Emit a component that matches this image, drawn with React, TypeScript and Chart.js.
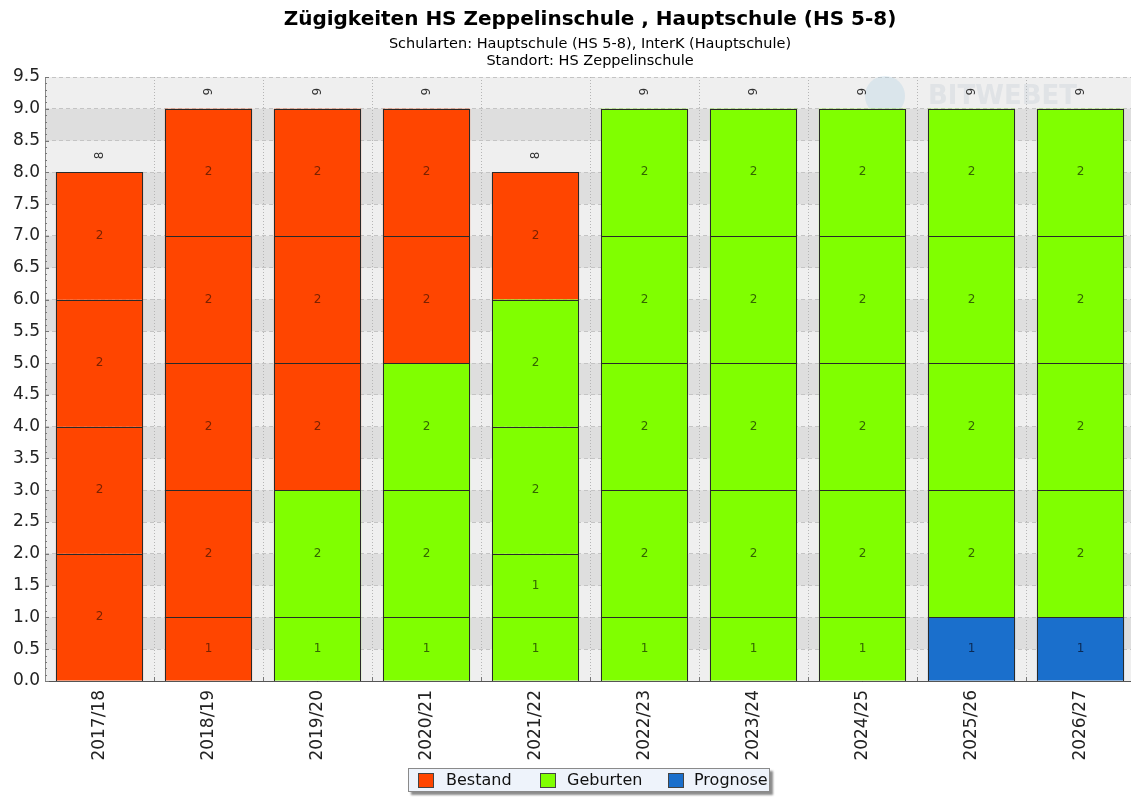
import React, { useEffect, useRef } from "react";
import { Chart, registerables } from "chart.js";

Chart.register(...registerables);

const categories = ["2017/18", "2018/19", "2019/20", "2020/21", "2021/22", "2022/23", "2023/24", "2024/25", "2025/26", "2026/27"];

// stacked layers, bottom to top
const layer1 = [0, 1, 1, 1, 1, 1, 1, 1, 1, 1];
const layer2 = [2, 2, 2, 2, 1, 2, 2, 2, 2, 2];
const layer3 = [2, 2, 2, 2, 2, 2, 2, 2, 2, 2];
const layer4 = [2, 2, 2, 2, 2, 2, 2, 2, 2, 2];
const layer5 = [2, 2, 2, 2, 2, 2, 2, 2, 2, 2];

// type per cell: B = Bestand, G = Geburten, P = Prognose
const type1 = ["B", "B", "G", "G", "G", "G", "G", "G", "P", "P"];
const type2 = ["B", "B", "G", "G", "G", "G", "G", "G", "G", "G"];
const type3 = ["B", "B", "B", "G", "G", "G", "G", "G", "G", "G"];
const type4 = ["B", "B", "B", "B", "G", "G", "G", "G", "G", "G"];
const type5 = ["B", "B", "B", "B", "B", "G", "G", "G", "G", "G"];

const totals = [8, 9, 9, 9, 8, 9, 9, 9, 9, 9];

const legendLabels = ["Bestand", "Geburten", "Prognose"];

const FILL: Record<string, string> = { B: "#ff4500", G: "#80ff00", P: "#1a6fcc" };
const TEXT: Record<string, string> = { B: "#7a2200", G: "#336600", P: "#0b2a55" };

const FONT = "'DejaVu Sans', Verdana, sans-serif";

const layers = [layer1, layer2, layer3, layer4, layer5];
const types = [type1, type2, type3, type4, type5];

const decorPlugin = {
  id: "decor",
  beforeDraw(chart: any) {
    const { ctx, chartArea } = chart;
    const y = chart.scales.y;
    ctx.save();
    ctx.fillStyle = "#efefef";
    ctx.fillRect(chartArea.left, chartArea.top, chartArea.right - chartArea.left, chartArea.bottom - chartArea.top);
    ctx.fillStyle = "#dedede";
    for (let v = 0.5; v < 9.5; v += 1) {
      const yt = y.getPixelForValue(v + 0.5);
      const yb = y.getPixelForValue(v);
      ctx.fillRect(chartArea.left, yt, chartArea.right - chartArea.left, yb - yt);
    }
    // title
    const cx = (chartArea.left + chartArea.right) / 2;
    ctx.fillStyle = "#000";
    ctx.textAlign = "center";
    ctx.textBaseline = "middle";
    ctx.font = `bold 20px ${FONT}`;
    ctx.fillText("Zügigkeiten HS Zeppelinschule , Hauptschule (HS 5-8)", cx, 20);
    ctx.font = `14.5px ${FONT}`;
    ctx.fillText("Schularten: Hauptschule (HS 5-8), InterK (Hauptschule)", cx, 44);
    ctx.fillText("Standort: HS Zeppelinschule", cx, 61);
    ctx.restore();
  },
  beforeDatasetsDraw(chart: any) {
    const { ctx } = chart;
    ctx.save();
    // faint watermark
    ctx.fillStyle = "rgba(170,205,225,0.3)";
    ctx.beginPath();
    ctx.arc(885, 96, 20, 0, Math.PI * 2);
    ctx.fill();
    ctx.fillStyle = "rgba(190,200,210,0.3)";
    ctx.font = `bold 26px ${FONT}`;
    ctx.textAlign = "left";
    ctx.textBaseline = "middle";
    ctx.fillText("BITWEBET", 928, 97);
    ctx.restore();
  },
  afterDatasetsDraw(chart: any) {
    const { ctx, chartArea } = chart;
    const y = chart.scales.y;
    const x = chart.scales.x;
    ctx.save();
    // crisp segment borders
    ctx.strokeStyle = "#2a2a2a";
    ctx.lineWidth = 1;
    chart.data.datasets.forEach((ds: any, di: number) => {
      const meta = chart.getDatasetMeta(di);
      meta.data.forEach((el: any, i: number) => {
        if (!ds.data[i]) return;
        const l = Math.round(el.x - el.width / 2) + 0.5;
        const r = Math.round(el.x + el.width / 2) - 0.5;
        const t = Math.round(el.y) + 0.5;
        const b = Math.round(el.base) + 0.5;
        ctx.strokeRect(l, t, r - l, b - t);
      });
    });
    ctx.textAlign = "center";
    ctx.textBaseline = "middle";
    ctx.font = `12px ${FONT}`;
    chart.data.datasets.forEach((ds: any, di: number) => {
      const meta = chart.getDatasetMeta(di);
      meta.data.forEach((el: any, i: number) => {
        const v = ds.data[i];
        if (!v) return;
        ctx.fillStyle = TEXT[types[di][i]];
        ctx.fillText(String(v), el.x, (el.y + el.base) / 2);
      });
    });
    // totals, rotated
    ctx.fillStyle = "#333";
    totals.forEach((t, i) => {
      const px = x.getPixelForValue(i);
      const py = y.getPixelForValue(t) - 17;
      ctx.save();
      ctx.translate(px, py);
      ctx.rotate(-Math.PI / 2);
      ctx.fillText(String(t), 0, 0);
      ctx.restore();
    });
    // axis lines
    ctx.strokeStyle = "#888";
    ctx.beginPath();
    ctx.moveTo(chartArea.left + 0.5, chartArea.top);
    ctx.lineTo(chartArea.left + 0.5, chartArea.bottom);
    ctx.stroke();
    ctx.strokeStyle = "#555";
    ctx.beginPath();
    ctx.moveTo(chartArea.left, Math.round(chartArea.bottom) + 0.5);
    ctx.lineTo(chartArea.right, Math.round(chartArea.bottom) + 0.5);
    ctx.stroke();
    // minor ticks on y axis
    ctx.strokeStyle = "#777";
    for (let k = 0; k <= 95; k++) {
      const py = Math.round(y.getPixelForValue(k / 10)) + 0.5;
      const len = k % 5 === 0 ? 4 : 2;
      ctx.beginPath();
      ctx.moveTo(chartArea.left, py);
      ctx.lineTo(chartArea.left + len, py);
      ctx.stroke();
    }
    // boundary ticks on x axis
    for (let i = 1; i < categories.length; i++) {
      const px = Math.round((x.getPixelForValue(i - 1) + x.getPixelForValue(i)) / 2) + 0.5;
      ctx.beginPath();
      ctx.moveTo(px, chartArea.bottom);
      ctx.lineTo(px, chartArea.bottom - 4);
      ctx.stroke();
    }
    ctx.restore();
  },
};

export default function App() {
  const ref = useRef<HTMLCanvasElement | null>(null);
  useEffect(() => {
    if (!ref.current) return;
    const chart = new Chart(ref.current, {
      type: "bar",
      data: {
        labels: categories,
        datasets: layers.map((d, li) => ({
          label: "L" + (li + 1),
          data: d,
          backgroundColor: types[li].map((t) => FILL[t]),
          borderWidth: 0,
          barPercentage: 0.8,
          categoryPercentage: 1,
        })),
      },
      options: {
        animation: false,
        responsive: false,
        maintainAspectRatio: false,
        layout: { padding: { top: 77, left: 0, right: 1, bottom: 0 } },
        plugins: {
          legend: { display: false },
          title: { display: false },
          tooltip: { enabled: false },
        },
        scales: {
          x: {
            stacked: true,
            offset: true,
            grid: {
              offset: true,
              color: "#b5b5b5",
              drawTicks: false,
            },
            border: { display: false, dash: [1, 2] },
            ticks: {
              font: { family: FONT, size: 17 },
              color: "#222",
              minRotation: 90,
              maxRotation: 90,
              padding: 9,
            },
            afterFit(scale: any) {
              scale.height = 116;
            },
          },
          y: {
            stacked: true,
            min: 0,
            max: 9.5,
            grid: { color: "#c4c4c4", drawTicks: false },
            border: { display: false, dash: [4, 3] },
            ticks: {
              stepSize: 0.5,
              font: { family: FONT, size: 17 },
              color: "#222",
              padding: 5,
              callback: (v: any) => Number(v).toFixed(1),
            },
            afterFit(scale: any) {
              scale.width = 45;
            },
          },
        },
      },
      plugins: [decorPlugin],
    });
    return () => chart.destroy();
  }, []);

  const legendColors = [FILL.B, FILL.G, FILL.P];
  const squareLeft = [9, 131, 259];
  const textLeft = [37, 158, 285];
  return (
    <div style={{ position: "absolute", left: 0, top: 0, width: 1131, height: 797, overflow: "hidden", background: "#fff" }}>
      <canvas ref={ref} width={1136} height={797} style={{ display: "block", width: 1136, height: 797 }} />
      <div
        style={{
          position: "absolute",
          left: 408,
          top: 768,
          width: 362,
          height: 24,
          background: "#eef3fb",
          border: "1px solid #8a8a8a",
          boxShadow: "3px 3px 2px #8c8c8c",
          fontFamily: FONT,
          fontSize: 16,
          color: "#111",
          boxSizing: "border-box",
        }}
      >
        {legendLabels.map((l, i) => (
          <React.Fragment key={l}>
            <span
              style={{
                position: "absolute",
                left: squareLeft[i],
                top: 4,
                width: 14,
                height: 13,
                background: legendColors[i],
                border: "1px solid #444",
              }}
            />
            <span style={{ position: "absolute", left: textLeft[i], top: 1, lineHeight: "20px", whiteSpace: "nowrap" }}>{l}</span>
          </React.Fragment>
        ))}
      </div>
    </div>
  );
}
